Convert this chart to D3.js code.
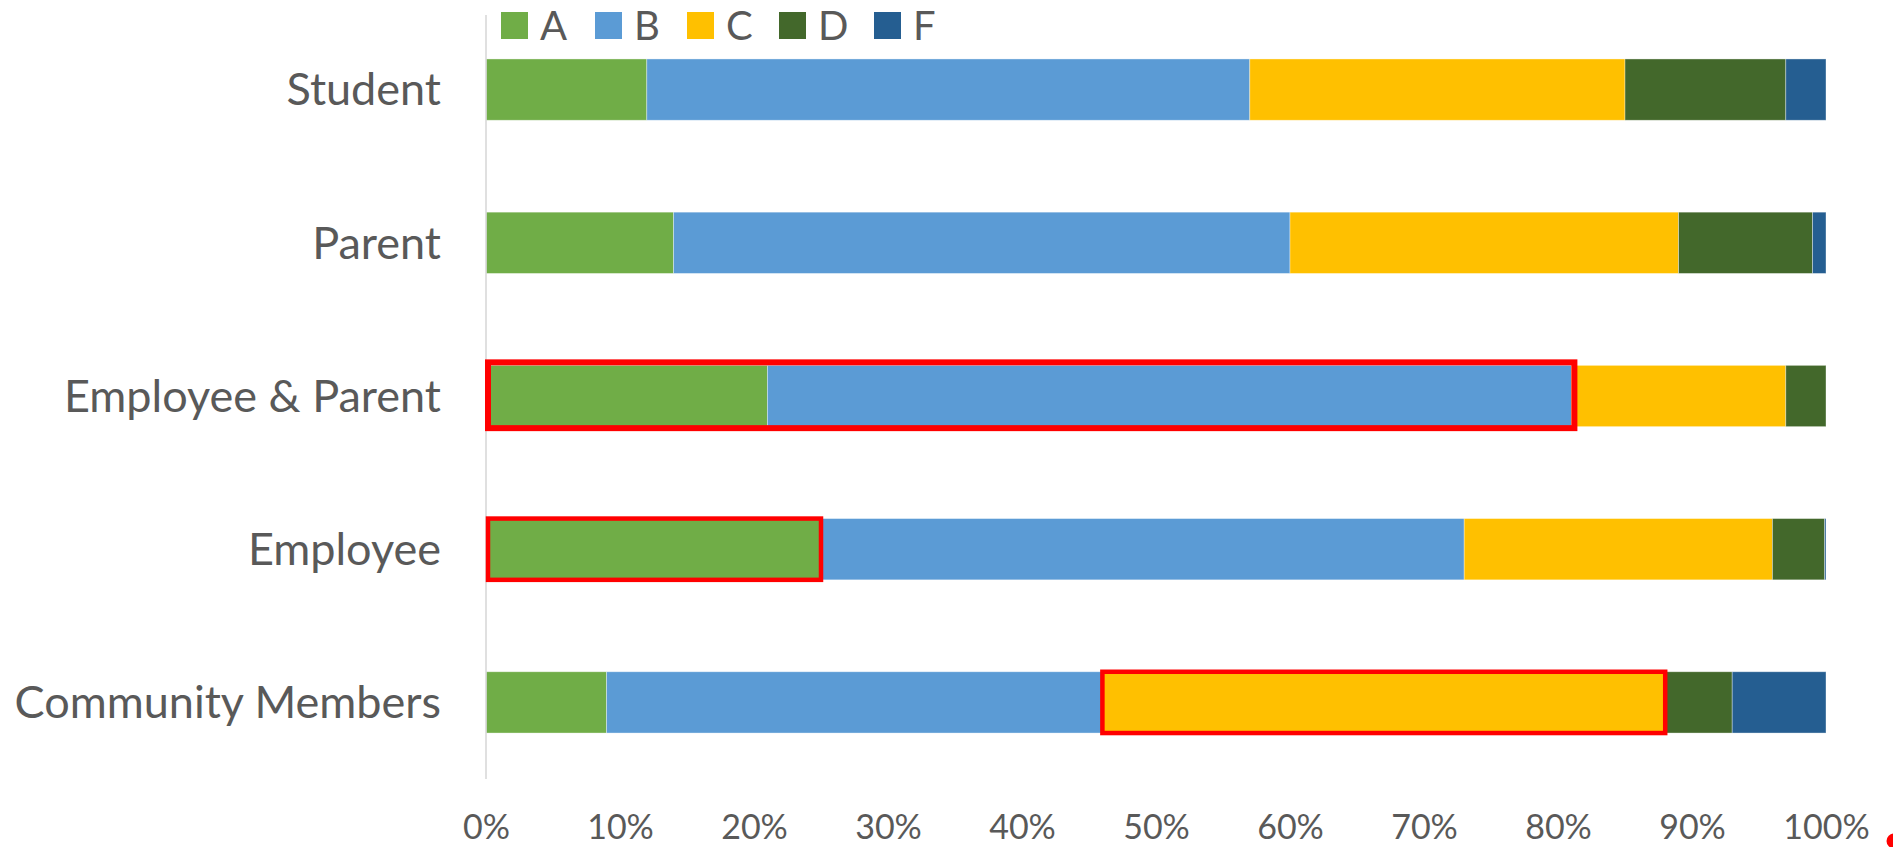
<!DOCTYPE html>
<html><head><meta charset="utf-8">
<script src="https://cdn.jsdelivr.net/npm/d3@7"></script>
<style>
html,body{margin:0;padding:0;background:#fff;}
svg{display:block;}
</style></head>
<body>
<svg id="chart" width="1893" height="847"></svg>
<script>
const categories = ["Student","Parent","Employee & Parent","Employee","Community Members"];
const seriesNames = ["A","B","C","D","F"];
const seriesA = [12,14,21,25,9];
const seriesB = [45,46,60,48,37];
const seriesC = [28,29,16,23,42];
const seriesD = [12,10,3,3.9,5];
const seriesF = [3,1,0,0.1,7];
const tickValues = [0,10,20,30,40,50,60,70,80,90,100];
const tickLabels = ["0%","10%","20%","30%","40%","50%","60%","70%","80%","90%","100%"];
const colors = ["#70AD47","#5B9BD5","#FFC000","#43682B","#255E91"];
// highlighted (red-outlined) spans: category, first series, last series
const highlightCats = ["Employee & Parent","Employee","Community Members"];
const highlightFrom = ["A","A","C"];
const highlightTo = ["B","A","C"];

const rows = categories.map((c,i)=>({cat:c, A:seriesA[i], B:seriesB[i], C:seriesC[i], D:seriesD[i], F:seriesF[i]}));
const stacked = d3.stack().keys(seriesNames)(rows);

const svg = d3.select("#chart");
const textColor = "#595959";
const font = "Lato, 'Open Sans', sans-serif";

const x = d3.scaleLinear().domain([0,100]).range([486,1826]);
const y = d3.scaleBand().domain(categories).range([13,779]).paddingInner(0.6).paddingOuter(0.3);
const color = d3.scaleOrdinal().domain(seriesNames).range(colors);

// bars
const g = svg.append("g");
g.selectAll("g.series").data(stacked).join("g").attr("class","series")
  .attr("fill", d=>color(d.key))
  .selectAll("rect").data(d=>d).join("rect")
  .attr("x", d=>x(d[0]))
  .attr("y", d=>y(d.data.cat))
  .attr("width", d=>Math.max(0, x(d[1])-x(d[0])))
  .attr("height", y.bandwidth())
  .attr("stroke","#ffffff").attr("stroke-opacity",0.45).attr("stroke-width",0.8);

// vertical axis line
svg.append("line").attr("x1",x(0)).attr("x2",x(0)).attr("y1",y.range()[0]+2).attr("y2",y.range()[1])
  .attr("stroke","#d9d9d9").attr("stroke-width",1.6);

// category labels
const yAxis = d3.axisLeft(y).tickSize(0).tickPadding(0);
const yg = svg.append("g").attr("transform",`translate(441,0)`).call(yAxis);
yg.select(".domain").remove();
yg.selectAll("text").attr("font-family",font).attr("font-size",45).attr("fill",textColor).attr("dy","0.35em");

// x axis labels
const xAxis = d3.axisBottom(x).tickValues(tickValues).tickFormat((d,i)=>tickLabels[i]).tickSize(0).tickPadding(0);
const xg = svg.append("g").attr("transform",`translate(0,839)`).call(xAxis);
xg.select(".domain").remove();
xg.selectAll("text").attr("font-family",font).attr("font-size",34).attr("fill",textColor).attr("dy","0");

// highlight rectangles
highlightCats.forEach((cat,i)=>{
  const ci = categories.indexOf(cat);
  const si0 = seriesNames.indexOf(highlightFrom[i]);
  const si1 = seriesNames.indexOf(highlightTo[i]);
  const v0 = stacked[si0][ci][0], v1 = stacked[si1][ci][1];
  const thick = i===0;
  const sw = thick ? 6 : 4.5;
  const pad = thick ? 3 : 0;
  svg.append("rect")
    .attr("x", x(v0) + (v0===0 ? 2 : 0))
    .attr("y", y(cat) - pad)
    .attr("width", x(v1) - x(v0) + pad - (v0===0 ? 2 : 0))
    .attr("height", y.bandwidth() + pad*1.5)
    .attr("fill","none").attr("stroke","#FF0000").attr("stroke-width",sw);
});

// legend (layout positions of each entry)
const legendX = [501,595,687,779,874];
const legend = svg.append("g");
seriesNames.forEach((s,i)=>{
  legend.append("rect").attr("x",legendX[i]).attr("y",12).attr("width",27).attr("height",27).attr("fill",colors[i]);
  legend.append("text").attr("x",legendX[i]+39).attr("y",40).text(s)
    .attr("font-family",font).attr("font-size",40).attr("fill",textColor);
});

// small red mark at bottom-right edge
svg.append("circle").attr("cx",1894).attr("cy",841).attr("r",7.5).attr("fill","#FF0000");
</script>
</body></html>
